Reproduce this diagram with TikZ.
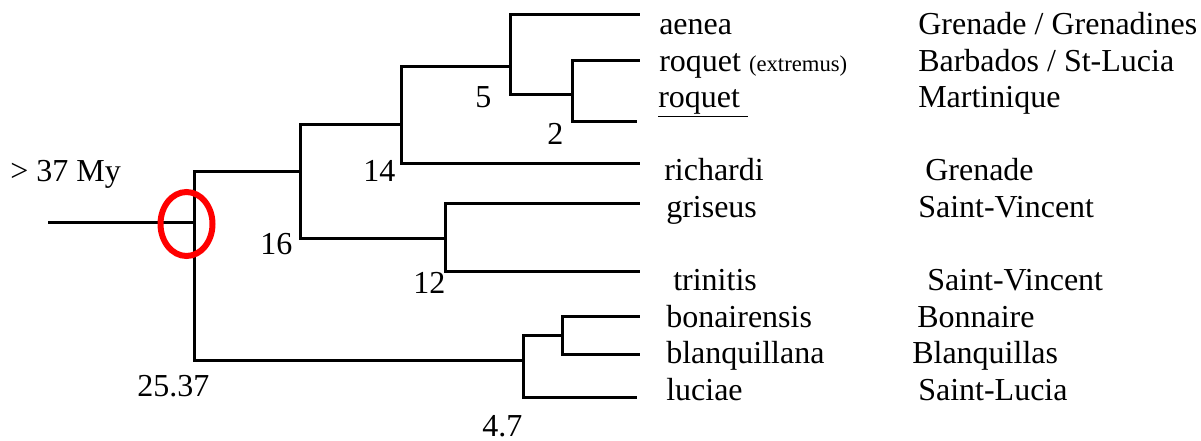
\documentclass[tikz,border=0pt]{standalone}
\usepackage{fontspec}
\setmainfont{Liberation Serif}
\begin{document}
\begin{tikzpicture}[x=0.75pt, y=-0.75pt]
                        \tikzstyle{branch} = [line width=2.25pt]
                        \tikzstyle{txt} = [anchor=base west, inner sep=0pt, font=\fontsize{24}{28}\selectfont]
                        \tikzstyle{ring} = [draw=red, line width=4.5pt]
                        \useasboundingbox (0,0) rectangle (1201,441);
                        % internal nodes
                        \coordinate (root) at (48,223);
                        \coordinate (n0) at (194,223);
                        \coordinate (nA) at (300,172);
                        \coordinate (nB) at (523,360);
                        \coordinate (nC) at (401,125);
                        \coordinate (nD) at (445,239);
                        \coordinate (nE) at (510,67);
                        \coordinate (nF) at (572,95);
                        \coordinate (nG) at (562,335);
                        % tips
                        \coordinate (taenea) at (640,15);
                        \coordinate (textremus) at (640,61);
                        \coordinate (troquet) at (637,122);
                        \coordinate (trichardi) at (640,164);
                        \coordinate (tgriseus) at (640,204);
                        \coordinate (ttrinitis) at (640,272);
                        \coordinate (tbonairensis) at (640,316);
                        \coordinate (tblanquillana) at (640,354);
                        \coordinate (tluciae) at (637,397);
                        \draw[branch] (root) -- (n0);
                        \draw[branch] (n0) |- (nA);
                        \draw[branch] (n0) |- (nB);
                        \draw[branch] (nA) |- (nC);
                        \draw[branch] (nA) |- (nD);
                        \draw[branch] (nC) |- (nE);
                        \draw[branch] (nC) |- (trichardi);
                        \draw[branch] (nE) |- (taenea);
                        \draw[branch] (nE) |- (nF);
                        \draw[branch] (nF) |- (textremus);
                        \draw[branch] (nF) |- (troquet);
                        \draw[branch] (nD) |- (tgriseus);
                        \draw[branch] (nD) |- (ttrinitis);
                        \draw[branch] (nB) |- (nG);
                        \draw[branch] (nB) |- (tluciae);
                        \draw[branch] (nG) |- (tbonairensis);
                        \draw[branch] (nG) |- (tblanquillana);
                        \coordinate (mark) at (186.5,224);
                        \draw[ring] (mark) ellipse [x radius=19.5pt, y radius=24pt];
                        % ages
                        \node[txt] (age0) at (10,182) {> 37 My};
                        \node[txt] (ageroot) at (137,396) {25.37};
                        \node[txt] (ageA) at (260,255) {16};
                        \node[txt] (ageC) at (363,182) {14};
                        \node[txt] (ageD) at (413,293) {12};
                        \node[txt] (ageE) at (475,108) {5};
                        \node[txt] (ageF) at (547,145) {2};
                        \node[txt] (ageB) at (482,436) {4.7};
                        % species
                        \node[txt] (aenea) at (659,35) {aenea};
                        \node[txt] (extremus) at (659,71.5) {roquet {\fontsize{17}{20}\selectfont(extremus)}};
                        \node[txt] (roquet) at (658,108) {\underline{roquet\ }};
                        \node[txt] (richardi) at (664,181) {richardi};
                        \node[txt] (griseus) at (666,217.5) {griseus};
                        \node[txt] (trinitis) at (673,290.5) {trinitis};
                        \node[txt] (bonairensis) at (666,327) {bonairensis};
                        \node[txt] (blanquillana) at (666,363.5) {blanquillana};
                        \node[txt] (luciae) at (666,400) {luciae};
                        % islands
                        \node[txt] (isaenea) at (918,35) {Grenade / Grenadines};
                        \node[txt] (isextremus) at (918,71.5) {Barbados / St-Lucia};
                        \node[txt] (isroquet) at (918,108) {Martinique};
                        \node[txt] (isrichardi) at (925,181) {Grenade};
                        \node[txt] (isgriseus) at (918,217.5) {Saint-Vincent};
                        \node[txt] (istrinitis) at (927,290.5) {Saint-Vincent};
                        \node[txt] (isbonairensis) at (917,327) {Bonnaire};
                        \node[txt] (isblanquillana) at (912,363.5) {Blanquillas};
                        \node[txt] (isluciae) at (918,400) {Saint-Lucia};
                    \end{tikzpicture}
\end{document}
